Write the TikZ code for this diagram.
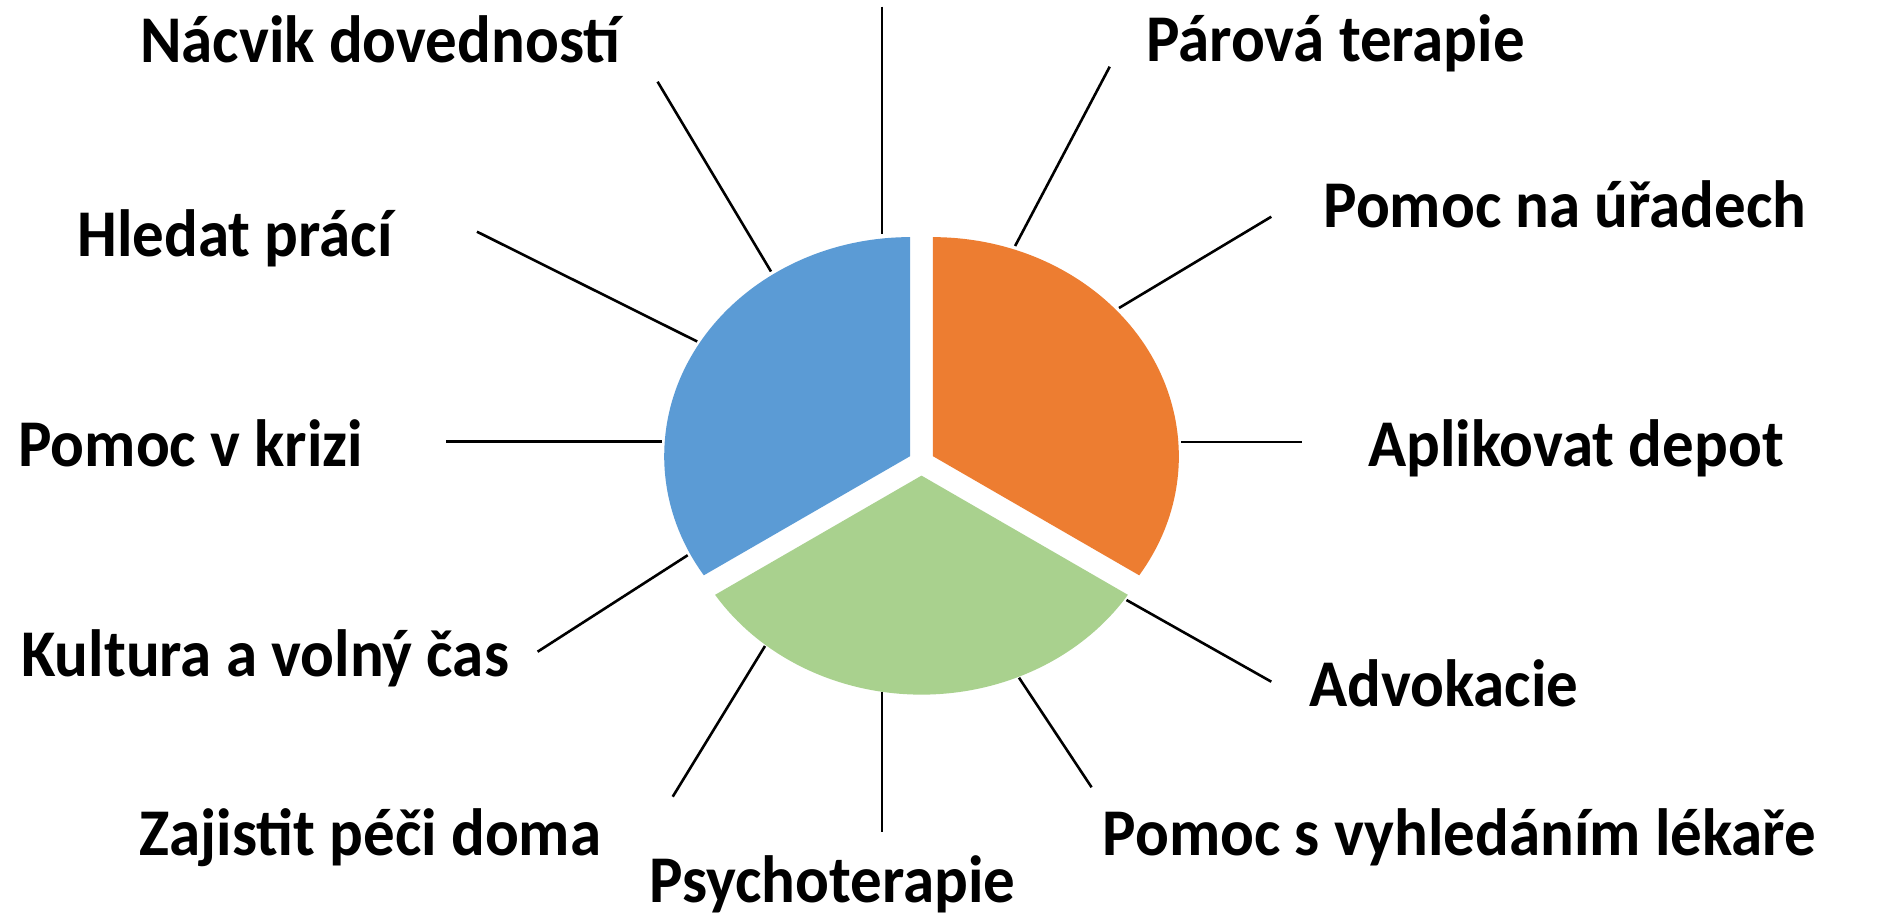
\documentclass[tikz,border=0pt]{standalone}
\usepackage{fontspec}
\setmainfont{Carlito}
\definecolor{pieblue}{HTML}{5B9BD5}
\definecolor{pieorange}{HTML}{ED7D31}
\definecolor{piegreen}{HTML}{A9D18E}
\newcommand{\tallbox}[1]{\scalebox{1}[1.06]{#1}}
\begin{document}
\begin{tikzpicture}[x=0.5pt,y=-0.5pt,
  lbl/.style={anchor=base,inner sep=0pt,font=\fontsize{31.5}{38}\selectfont\bfseries,text=black},
  spoke/.style={draw=black,line width=1.3pt},
  sector/.style={x radius=123pt,y radius=109.5pt}]
\useasboundingbox[fill=white] (0,0) rectangle (1895,912);
% pie sectors (exploded)
\coordinate (cb) at (910.2,456.1);
\coordinate (co) at (932.8,456.1);
\coordinate (cg) at (921.5,475.6);
\fill[pieblue] (cb) -- ++(0,-219) arc[start angle=90,end angle=212.97,sector] -- cycle;
\fill[pieorange] (co) -- ++(206.4,119.2) arc[start angle=-32.97,end angle=90,sector] -- cycle;
\fill[piegreen] (cg) -- ++(-206.4,119.2) arc[start angle=212.97,end angle=327.03,sector] -- cycle;
% spoke end points
\coordinate (a1) at (882,6.7);      \coordinate (b1) at (882,234.3);
\coordinate (a2) at (1109.7,66.7);  \coordinate (b2) at (1015.1,246);
\coordinate (a3) at (1271.3,216.7); \coordinate (b3) at (1119,308);
\coordinate (a4) at (1301.6,442);   \coordinate (b4) at (1181,442);
\coordinate (a5) at (1271.3,681.7); \coordinate (b5) at (1126.5,600);
\coordinate (a6) at (1091.6,787.3); \coordinate (b6) at (1019,677.7);
\coordinate (a7) at (882,831.7);    \coordinate (b7) at (882,692.3);
\coordinate (a8) at (672.7,796.7);  \coordinate (b8) at (765,646);
\coordinate (a9) at (537.6,651.7);  \coordinate (b9) at (687.7,555.2);
\coordinate (a10) at (446,441.7);   \coordinate (b10) at (662,441.7);
\coordinate (a11) at (477,231.7);   \coordinate (b11) at (697.2,341.5);
\coordinate (a12) at (657.6,81.7);  \coordinate (b12) at (771,271.5);
\foreach \i in {1,...,12} { \draw[spoke] (a\i) -- (b\i); }
% labels
\node[lbl] (parova) at (1335.5,61) {\tallbox{Párová terapie}};
\node[lbl] (uradech) at (1565,227) {\tallbox{Pomoc na úřadech}};
\node[lbl] (depot) at (1576,466) {\tallbox{Aplikovat depot}};
\node[lbl] (advokacie) at (1443.6,706) {\tallbox{Advokacie}};
\node[lbl] (lekare) at (1459.4,855) {\tallbox{Pomoc s vyhledáním lékaře}};
\node[lbl] (psycho) at (832.5,902) {\tallbox{Psychoterapie}};
\node[lbl] (doma) at (370.5,855) {\tallbox{Zajistit péči doma}};
\node[lbl] (kultura) at (265,676) {\tallbox{Kultura a volný čas}};
\node[lbl] (krizi) at (190.8,466) {\tallbox{Pomoc v krizi}};
\node[lbl] (prace) at (235,256) {\tallbox{Hledat prácí}};
\node[lbl] (nacvik) at (380.3,62) {\tallbox{Nácvik dovedností}};
\end{tikzpicture}
\end{document}
